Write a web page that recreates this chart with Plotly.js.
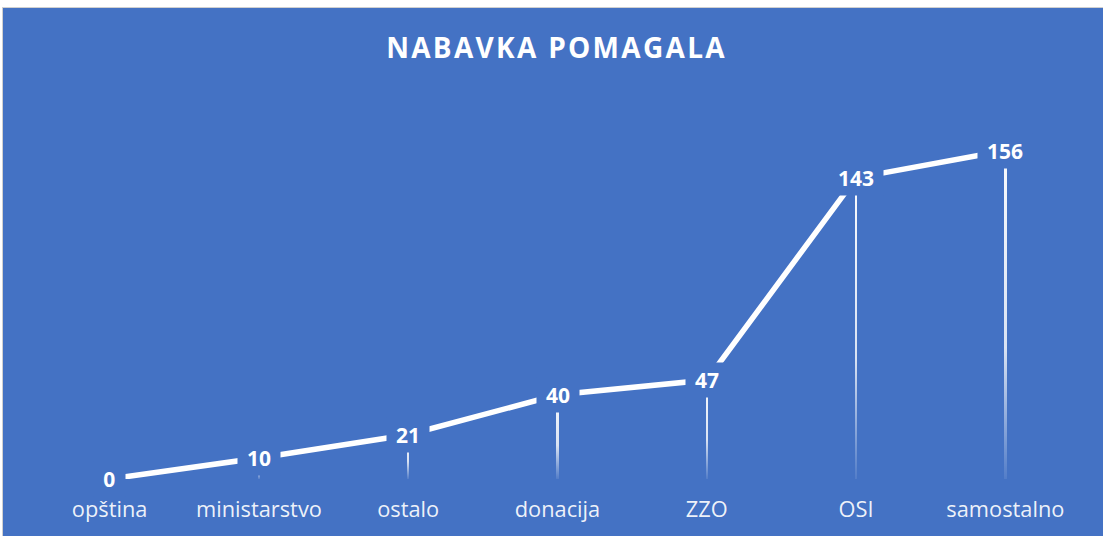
<!DOCTYPE html>
<html>
<head>
<meta charset="utf-8">
<script src="https://cdn.plot.ly/plotly-3.0.1.min.js"></script>
<style>
  html, body { margin: 0; padding: 0; background: #ffffff; width: 1103px; height: 536px; overflow: hidden; }
  #frame { position: absolute; left: 2px; top: 7px; width: 1101px; height: 529px;
           border-top: 1px solid #d0d0d0; border-left: 1px solid #d0d0d0; box-sizing: border-box; }
  #chart { position: absolute; left: 3px; top: 8px; width: 1100px; height: 528px; }
  .gtitle { letter-spacing: 2.3px; }
</style>
</head>
<body>
<div id="frame"></div>
<div id="chart"></div>
<script>
const categories = ["opština", "ministarstvo", "ostalo", "donacija", "ZZO", "OSI", "samostalno"];
const values = [0, 10, 21, 40, 47, 143, 156];
const chartTitle = "NABAVKA POMAGALA";

const BLUE = "#4472C4";

const dropLines = {
  type: "bar",
  x: categories,
  y: values,
  width: 0.0165,
  marker: { color: "#ffffff", line: { width: 0 } },
  hoverinfo: "skip",
  showlegend: false
};

const mainLine = {
  type: "scatter",
  mode: "lines",
  x: categories,
  y: values,
  line: { color: "#ffffff", width: 5.5 },
  cliponaxis: false,
  hoverinfo: "skip",
  showlegend: false
};

const annotations = values.map((v, i) => ({
  x: categories[i],
  y: v,
  xref: "x",
  yref: "y",
  text: String(v),
  showarrow: false,
  xanchor: "center",
  yanchor: "middle",
  bgcolor: BLUE,
  borderpad: 0,
  width: String(v).length * 11.6 + 19,
  height: 34,
  font: { family: "Open Sans", size: 21, color: "#ffffff", weight: 700 }
}));

const layout = {
  width: 1100,
  height: 528,
  paper_bgcolor: BLUE,
  plot_bgcolor: BLUE,
  margin: { l: 32.4, r: 22.7, t: 92, b: 57, pad: 0 },
  title: {
    text: chartTitle,
    x: 0.5032,
    xref: "container",
    y: 1 - 40.5 / 528,
    yref: "container",
    xanchor: "center",
    yanchor: "middle",
    font: { family: "Open Sans", size: 28, color: "#ffffff", weight: 700 }
  },
  xaxis: {
    type: "category",
    range: [-0.5, 6.5],
    showgrid: false,
    zeroline: false,
    showline: false,
    ticks: "",
    ticklabelstandoff: 15,
    tickfont: { family: "Open Sans", size: 21.8, color: "rgba(255,255,255,0.92)" },
    fixedrange: true
  },
  yaxis: {
    range: [0, 180],
    visible: false,
    showgrid: false,
    zeroline: false,
    fixedrange: true
  },
  bargap: 0,
  annotations: annotations,
  showlegend: false
};

Plotly.newPlot("chart", [dropLines, mainLine], layout, { displayModeBar: false, staticPlot: true }).then(gd => {
  const svg = gd.querySelector(".main-svg");
  const ns = "http://www.w3.org/2000/svg";
  let defs = svg.querySelector("defs");
  if (!defs) { defs = document.createElementNS(ns, "defs"); svg.insertBefore(defs, svg.firstChild); }
  const grad = document.createElementNS(ns, "linearGradient");
  grad.setAttribute("id", "dropGrad");
  grad.setAttribute("x1", "0"); grad.setAttribute("y1", "0");
  grad.setAttribute("x2", "0"); grad.setAttribute("y2", "1");
  [[0, 0.97], [0.6, 0.8], [1, 0.08]].forEach(([o, a]) => {
    const s = document.createElementNS(ns, "stop");
    s.setAttribute("offset", String(o));
    s.setAttribute("stop-color", "#ffffff");
    s.setAttribute("stop-opacity", String(a));
    grad.appendChild(s);
  });
  defs.appendChild(grad);
  gd.querySelectorAll(".barlayer .point path").forEach(p => {
    p.style.fill = "url(#dropGrad)";
  });
});
</script>
</body>
</html>
